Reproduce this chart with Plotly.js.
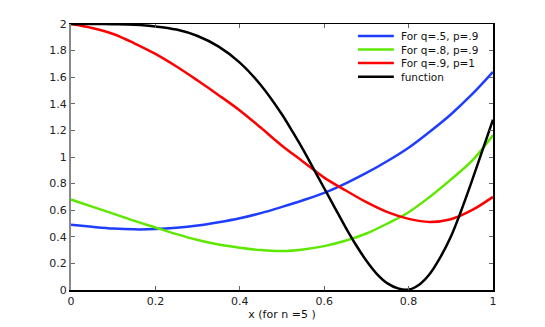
<!DOCTYPE html>
<html>
<head>
<meta charset="utf-8">
<script src="https://cdn.plot.ly/plotly-3.0.1.min.js"></script>
<style>
  html, body { margin: 0; padding: 0; background: #fff; }
  #plot { width: 545px; height: 327px; }
</style>
</head>
<body>
<div id="plot"></div>
<script>
var xs = [0, 0.05, 0.1, 0.15, 0.2, 0.25, 0.3, 0.35, 0.4, 0.45, 0.5,
          0.55, 0.6, 0.65, 0.7, 0.75, 0.8, 0.85, 0.9, 0.95, 1];

var blueQ5 = [0.49, 0.475, 0.462, 0.456, 0.458, 0.468, 0.485, 0.51, 0.54, 0.578, 0.625,
              0.675, 0.73, 0.80, 0.88, 0.97, 1.07, 1.19, 1.32, 1.47, 1.64];
var greenQ8 = [0.68, 0.627, 0.574, 0.52, 0.47, 0.42, 0.376, 0.342, 0.318, 0.30, 0.293,
               0.305, 0.33, 0.37, 0.425, 0.50, 0.585, 0.70, 0.83, 0.97, 1.165];
var redQ9 = [2.0, 1.97, 1.925, 1.855, 1.775, 1.68, 1.575, 1.465, 1.35, 1.22, 1.085,
             0.965, 0.845, 0.75, 0.66, 0.585, 0.535, 0.512, 0.532, 0.60, 0.70];

// the function dips sharply, so it is read more finely past x = 0.5
var funcX = [0, 0.05, 0.1, 0.15, 0.2, 0.25, 0.3, 0.35, 0.4, 0.45, 0.5,
             0.525, 0.55, 0.575, 0.6, 0.625, 0.65, 0.675, 0.7, 0.725, 0.75,
             0.775, 0.8, 0.825, 0.85, 0.875, 0.9, 0.925, 0.95, 0.975, 1];
var func = [2.0, 2.0, 1.998, 1.994, 1.982, 1.958, 1.91, 1.83, 1.71, 1.54, 1.32,
            1.19, 1.055, 0.91, 0.765, 0.62, 0.475, 0.34, 0.22, 0.12, 0.05,
            0.012, 0.003, 0.04, 0.12, 0.245, 0.40, 0.60, 0.82, 1.05, 1.28];

var names = ['For q=.5, p=.9', 'For q=.8, p=.9', 'For q=.9, p=1', 'function'];
var colors = ['#1f3dff', '#5ee800', '#ff0000', '#000000'];
var series = [blueQ5, greenQ8, redQ9, func];

var traces = [];
for (var i = 0; i < series.length; i++) {
  traces.push({
    x: i === 3 ? funcX : xs,
    y: series[i],
    type: 'scatter',
    mode: 'lines',
    name: names[i],
    line: { color: colors[i], width: 2.5, shape: 'spline', smoothing: 1 },
    yaxis: i === 3 ? 'y2' : 'y',
    hoverinfo: 'skip'
  });
}

// hand made legend, matlab style spacing
var shapes = [];
var annotations = [];
var rowY = [0.955, 0.904, 0.853, 0.802];
for (var k = 0; k < names.length; k++) {
  shapes.push({
    type: 'line', xref: 'paper', yref: 'paper',
    x0: 0.680, x1: 0.765, y0: rowY[k], y1: rowY[k],
    line: { color: colors[k], width: 2.5 }
  });
  annotations.push({
    xref: 'paper', yref: 'paper', x: 0.779, y: rowY[k],
    xanchor: 'left', yanchor: 'middle', showarrow: false,
    borderpad: 0,
    text: names[k], font: { size: 10.5, color: '#111' }
  });
}

var tickFont = { family: 'DejaVu Sans, sans-serif', size: 11, color: '#222' };

var layout = {
  width: 545,
  height: 327,
  margin: { l: 71, r: 52, t: 24, b: 37 },
  paper_bgcolor: '#fff',
  plot_bgcolor: '#fff',
  font: { family: 'DejaVu Sans, sans-serif', size: 11, color: '#222' },
  showlegend: false,
  xaxis: {
    range: [0, 1],
    dtick: 0.2,
    tick0: 0,
    ticks: 'inside',
    ticklen: 4,
    tickcolor: '#666',
    showline: true,
    linecolor: '#000',
    linewidth: 1.5,
    mirror: 'ticks',
    showgrid: false,
    zeroline: false,
    tickfont: tickFont,
    title: { text: 'x (for n =5 )', font: { size: 11, color: '#111' }, standoff: 2 }
  },
  yaxis: {
    range: [0, 2],
    dtick: 0.2,
    tick0: 0,
    ticks: 'inside',
    ticklen: 4,
    tickcolor: '#666',
    showline: true,
    linecolor: '#888',
    linewidth: 2,
    mirror: false,
    showgrid: false,
    zeroline: false,
    tickfont: tickFont
  },
  yaxis2: {
    overlaying: 'y',
    side: 'right',
    range: [0, 2],
    dtick: 0.2,
    tick0: 0,
    ticks: 'inside',
    ticklen: 4,
    tickcolor: '#666',
    showline: true,
    linecolor: '#000',
    linewidth: 1.5,
    showticklabels: false,
    showgrid: false,
    zeroline: false
  },
  shapes: shapes,
  annotations: annotations
};

Plotly.newPlot('plot', traces, layout, { staticPlot: true });
</script>
</body>
</html>
